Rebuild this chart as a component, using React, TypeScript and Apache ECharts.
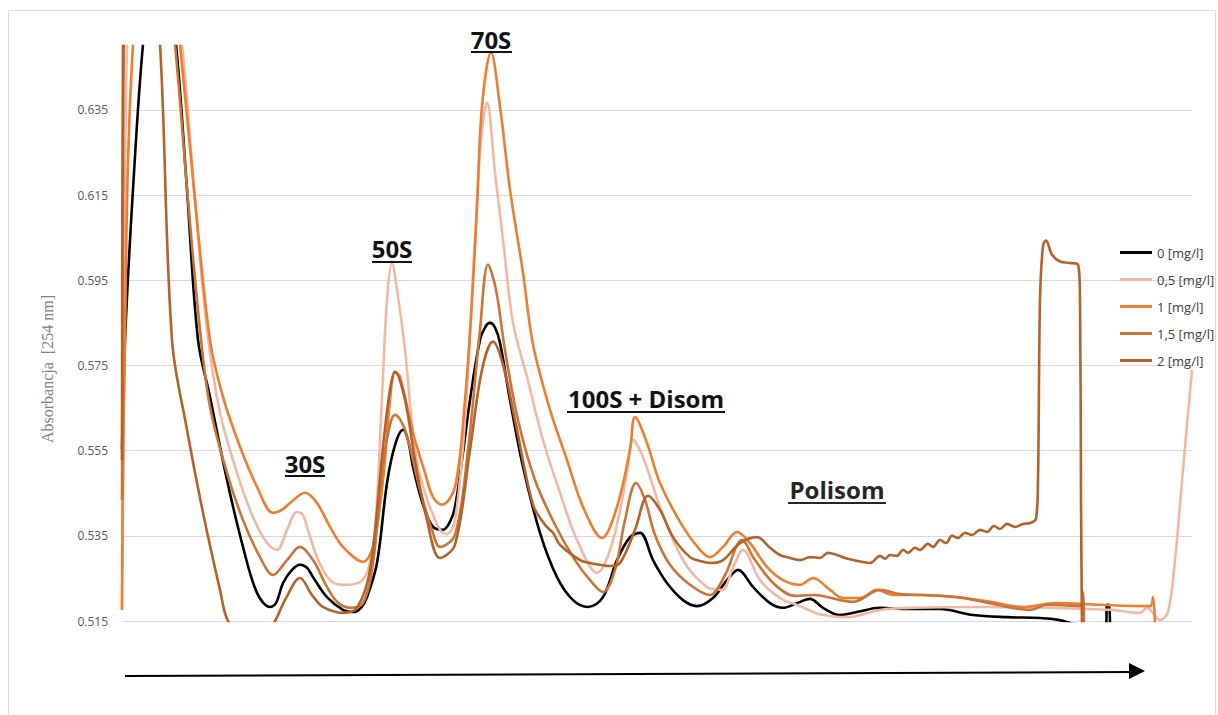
import React, { useEffect, useRef } from "react";
import * as echarts from "echarts";

// Absorbance profiles (254 nm) along the sucrose gradient, one per concentration.
// x: position along the gradient (0 = top), y: absorbance.
const seriesNames = ["0 [mg/l]", "0,5 [mg/l]", "1 [mg/l]", "1,5 [mg/l]", "2 [mg/l]"];

const abs0: [number, number][] = [
  [0, 0.5552], [3, 0.581], [11, 0.6163], [21, 0.6504], [30, 0.665], [43, 0.668], [54, 0.6504],
  [65, 0.6163], [76, 0.581], [88, 0.5676], [105, 0.5481], [121, 0.5324], [135, 0.5216],
  [148, 0.5183], [154, 0.5192], [161, 0.5239], [170, 0.527], [178, 0.5282], [185, 0.5275],
  [191, 0.5253], [205, 0.5206], [221, 0.5176], [231, 0.5171], [239, 0.5181], [245, 0.5206],
  [255, 0.5286], [265, 0.5474], [273, 0.5563], [281, 0.5599], [286, 0.5575], [291, 0.5512],
  [301, 0.5423], [311, 0.5371], [321, 0.5364], [328, 0.5383], [333, 0.5418], [340, 0.5528],
  [348, 0.5669], [358, 0.581], [364, 0.5843], [368, 0.585], [373, 0.5839], [378, 0.5803],
  [388, 0.5669], [401, 0.5512], [418, 0.5357], [435, 0.5253], [451, 0.5199], [466, 0.5183],
  [481, 0.5206], [495, 0.5293], [508, 0.5347], [518, 0.5357], [531, 0.5293], [545, 0.5239],
  [561, 0.5199], [575, 0.5185], [591, 0.5204], [605, 0.5246], [616, 0.527], [631, 0.523],
  [648, 0.5192], [661, 0.5181], [675, 0.5192], [688, 0.5202], [701, 0.5181], [718, 0.5164],
  [735, 0.5171], [758, 0.5181], [785, 0.5178], [818, 0.5178], [851, 0.5164], [885, 0.5159],
  [918, 0.5157], [938, 0.5152], [953, 0.5143], [978, 0.5141], [984, 0.5141], [985, 0.5188],
  [987, 0.5188], [988, 0.5138],
];

const abs05: [number, number][] = [
  [0, 0.5181], [2, 0.5669], [5, 0.6504], [18, 0.668], [48, 0.668], [60, 0.6504], [73, 0.6139],
  [85, 0.5834], [98, 0.5639], [115, 0.5498], [131, 0.5394], [145, 0.5333], [155, 0.5317],
  [165, 0.5364], [175, 0.5406], [181, 0.5399], [185, 0.5371], [195, 0.53], [208, 0.5246],
  [221, 0.5235], [236, 0.5239], [246, 0.527], [253, 0.5364], [260, 0.5676], [265, 0.5904],
  [270, 0.5991], [275, 0.5928], [283, 0.5787], [293, 0.5552], [303, 0.5451], [318, 0.5364],
  [325, 0.5354], [333, 0.5387], [343, 0.5622], [353, 0.6045], [359, 0.628], [365, 0.6367],
  [373, 0.6203], [381, 0.6045], [391, 0.585], [405, 0.5723], [421, 0.5575], [438, 0.5451],
  [455, 0.534], [475, 0.5263], [491, 0.534], [505, 0.5498], [511, 0.5575], [521, 0.5535],
  [538, 0.5418], [561, 0.5293], [585, 0.523], [600, 0.5223], [611, 0.5275], [621, 0.5317],
  [638, 0.5246], [658, 0.5204], [678, 0.5185], [698, 0.5166], [725, 0.5159], [758, 0.5176],
  [791, 0.5181], [858, 0.5183], [925, 0.5181], [991, 0.5176], [1018, 0.5169], [1025, 0.5181],
  [1038, 0.5152], [1046, 0.5171], [1053, 0.5293], [1061, 0.5505], [1070, 0.574],
];

const abs1: [number, number][] = [
  [0, 0.5176], [2, 0.5669], [11, 0.6504], [28, 0.67], [48, 0.67], [58, 0.6504], [73, 0.6139],
  [88, 0.581], [101, 0.5676], [118, 0.5559], [135, 0.5465], [151, 0.5404], [160, 0.5411],
  [168, 0.5427], [183, 0.5451], [195, 0.5427], [208, 0.5371], [221, 0.5324], [241, 0.5289],
  [251, 0.5324], [261, 0.5481], [268, 0.5669], [273, 0.5735], [278, 0.5723], [291, 0.5592],
  [303, 0.5498], [311, 0.5441], [320, 0.5423], [333, 0.5465], [343, 0.5669], [350, 0.5904],
  [355, 0.6123], [360, 0.6358], [369, 0.6485], [378, 0.6358], [388, 0.6163], [401, 0.5968],
  [411, 0.5799], [428, 0.5646], [445, 0.5528], [461, 0.5418], [480, 0.5345], [495, 0.5418],
  [508, 0.5552], [513, 0.5629], [525, 0.5568], [538, 0.5474], [561, 0.5371], [578, 0.5317],
  [588, 0.53], [601, 0.5324], [615, 0.5359], [628, 0.5333], [645, 0.5277], [661, 0.5246],
  [678, 0.5235], [691, 0.5251], [708, 0.5223], [721, 0.5204], [738, 0.5204], [755, 0.5223],
  [771, 0.5211], [801, 0.5211], [835, 0.5206], [868, 0.5195], [901, 0.5183], [935, 0.5192],
  [978, 0.5188], [1028, 0.5185], [1031, 0.5206], [1033, 0.5141],
];

const abs15: [number, number][] = [
  [0, 0.5434], [1, 0.6139], [2, 0.6504], [18, 0.67], [43, 0.67], [53, 0.6504], [66, 0.6139],
  [78, 0.5834], [88, 0.5653], [105, 0.5498], [121, 0.5387], [138, 0.53], [151, 0.5258],
  [165, 0.5293], [178, 0.5324], [191, 0.5293], [205, 0.523], [215, 0.5195], [228, 0.5181],
  [241, 0.5192], [251, 0.5286], [261, 0.5521], [268, 0.5611], [273, 0.5634], [283, 0.5599],
  [298, 0.5458], [310, 0.5364], [318, 0.5324], [333, 0.5352], [346, 0.5552], [358, 0.5834],
  [366, 0.5987], [374, 0.5928], [383, 0.5786], [396, 0.5622], [413, 0.5481], [433, 0.5376],
  [453, 0.5293], [468, 0.5246], [481, 0.5218], [493, 0.527], [503, 0.5387], [514, 0.5474],
  [523, 0.5434], [533, 0.5352], [548, 0.5282], [568, 0.5235], [588, 0.5211], [603, 0.5258],
  [620, 0.534], [633, 0.5293], [653, 0.5235], [673, 0.5209], [691, 0.5211], [731, 0.5195],
  [758, 0.5223], [778, 0.5213], [801, 0.5211], [841, 0.5204], [875, 0.5188], [908, 0.5176],
  [925, 0.5188], [958, 0.5185], [961, 0.5218], [962, 0.5141],
];

const abs2: [number, number][] = [
  [0, 0.5528], [1, 0.6504], [18, 0.67], [28, 0.67], [38, 0.6504], [50, 0.581], [65, 0.5599],
  [81, 0.5404], [98, 0.5223], [106, 0.515], [123, 0.5105], [140, 0.5105], [153, 0.515],
  [163, 0.5199], [178, 0.5251], [190, 0.5211], [201, 0.5183], [221, 0.5169], [235, 0.5181],
  [248, 0.527], [261, 0.5559], [268, 0.5693], [273, 0.5735], [283, 0.5669], [293, 0.5528],
  [305, 0.5387], [318, 0.5298], [333, 0.5329], [348, 0.5552], [360, 0.574], [371, 0.5806],
  [381, 0.5752], [393, 0.5622], [411, 0.5423], [423, 0.5376], [431, 0.5357], [438, 0.5329],
  [458, 0.5293], [468, 0.5286], [478, 0.5282], [488, 0.5279], [498, 0.5286], [513, 0.5364],
  [526, 0.5444], [538, 0.5411], [551, 0.5347], [568, 0.53], [578, 0.5291], [588, 0.5286],
  [601, 0.5293], [618, 0.5333], [635, 0.5347], [648, 0.5322], [658, 0.5305], [668, 0.5298],
  [678, 0.5293], [688, 0.53], [698, 0.5298], [706, 0.531], [715, 0.5305], [723, 0.5298],
  [731, 0.5293], [740, 0.5289], [748, 0.5286], [758, 0.5303], [763, 0.5296], [768, 0.5305],
  [775, 0.5303], [781, 0.5317], [786, 0.531], [793, 0.5322], [798, 0.5317], [806, 0.5331],
  [811, 0.5324], [818, 0.534], [824, 0.5333], [830, 0.535], [836, 0.5345], [843, 0.5357],
  [850, 0.5352], [858, 0.5364], [865, 0.5359], [872, 0.5373], [878, 0.5366], [885, 0.5378],
  [893, 0.5371], [901, 0.5378], [908, 0.538], [914, 0.539], [916, 0.5481], [918, 0.5904],
  [921, 0.6031], [924, 0.6043], [930, 0.601], [938, 0.5994], [946, 0.5991], [956, 0.5987],
  [958, 0.5904], [959, 0.5434], [960, 0.5129],
];

const seriesData = [abs0, abs05, abs1, abs15, abs2];
const seriesColors = ["#000000", "#F2B8A6", "#ED7D31", "#CB7437", "#B4622A"];

// Absorbance axis: visible range and tick step
const yMin = 0.515;
const yMax = 0.65;
const yStep = 0.02;
const xMax = 1070;

// Fraction labels drawn above the peaks
const peakLabels = [
  { text: "30S", cx: 305, cy: 463, x1: 285, x2: 325, uy: 476 },
  { text: "50S", cx: 392, cy: 248, x1: 372, x2: 412, uy: 262 },
  { text: "70S", cx: 491, cy: 39, x1: 471, x2: 512, uy: 52 },
  { text: "100S + Disom", cx: 646, cy: 398, x1: 567, x2: 725, uy: 412 },
  { text: "Polisom", cx: 837, cy: 489, x1: 788, x2: 886, uy: 503 },
];

export default function App() {
  const ref = useRef<HTMLDivElement>(null);

  useEffect(() => {
    if (!ref.current) return;
    const chart = echarts.init(ref.current, null, { renderer: "svg" });

    const labelGraphics: any[] = [];
    peakLabels.forEach((p) => {
      const ink = p.text === "Polisom" ? "#262626" : "#111111";
      labelGraphics.push({
        type: "text",
        x: p.cx,
        y: p.cy,
        z: 50,
        style: {
          text: p.text,
          fontFamily: "Open Sans",
          fontWeight: "bold",
          fontSize: 24,
          fill: ink,
          align: "center",
          verticalAlign: "middle",
        },
      });
      labelGraphics.push({
        type: "line",
        z: 50,
        shape: { x1: p.x1, y1: p.uy, x2: p.x2, y2: p.uy },
        style: { stroke: ink, lineWidth: 2 },
      });
    });

    chart.setOption({
      animation: false,
      backgroundColor: "#ffffff",
      grid: { left: 122, right: 26, top: 46, bottom: 94, containLabel: false },
      legend: {
        orient: "vertical",
        left: 1115,
        top: 241,
        icon: "rect",
        itemWidth: 32,
        itemHeight: 3,
        itemGap: 14,
        selectedMode: false,
        data: seriesNames,
        textStyle: { fontFamily: "Open Sans", fontSize: 13, color: "#404040" },
      },
      xAxis: { type: "value", min: 0, max: xMax, show: false },
      yAxis: [
        { type: "value", min: yMin, max: yMax, show: false, splitLine: { show: false } },
        {
          type: "value",
          min: 0,
          max: +(yMax - yMin).toFixed(3),
          interval: yStep,
          position: "left",
          axisLine: { show: false },
          axisTick: { show: false },
          axisLabel: {
            margin: 14,
            showMaxLabel: false,
            fontFamily: "Open Sans",
            fontSize: 12,
            color: "#595959",
            formatter: (v: number) => (v + yMin).toFixed(3),
          },
          splitLine: { show: true, showMaxLine: false, lineStyle: { color: "#d9d9d9", width: 1 } },
        },
      ],
      series: seriesData.map((d, i) => ({
        name: seriesNames[i],
        type: "line",
        data: d,
        yAxisIndex: 0,
        showSymbol: false,
        symbol: "none",
        smooth: 0.35,
        clip: true,
        color: seriesColors[i],
        lineStyle: { width: 2.6, color: seriesColors[i], join: "round" },
        emphasis: { disabled: true },
      })),
      graphic: [
        {
          type: "rect",
          silent: true,
          shape: { x: 8.5, y: 10.5, width: 1207, height: 720 },
          style: { fill: "none", stroke: "#d9d9d9", lineWidth: 1 },
        },
        {
          type: "text",
          x: 47,
          y: 369,
          rotation: Math.PI / 2,
          style: {
            text: "Absorbancja  [254 nm]",
            fontFamily: "Liberation Serif",
            fontSize: 16,
            fill: "#808080",
            align: "center",
            verticalAlign: "middle",
          },
        },
        ...labelGraphics,
        {
          type: "line",
          shape: { x1: 125, y1: 676, x2: 1132, y2: 672 },
          style: { stroke: "#000000", lineWidth: 2 },
        },
        {
          type: "polygon",
          shape: { points: [[1129, 663], [1145, 671], [1129, 679]] },
          style: { fill: "#000000" },
        },
      ],
    });

    return () => chart.dispose();
  }, []);

  return (
    <div
      ref={ref}
      style={{ position: "absolute", left: 0, top: 0, width: 1218, height: 715, background: "#fff" }}
    />
  );
}
